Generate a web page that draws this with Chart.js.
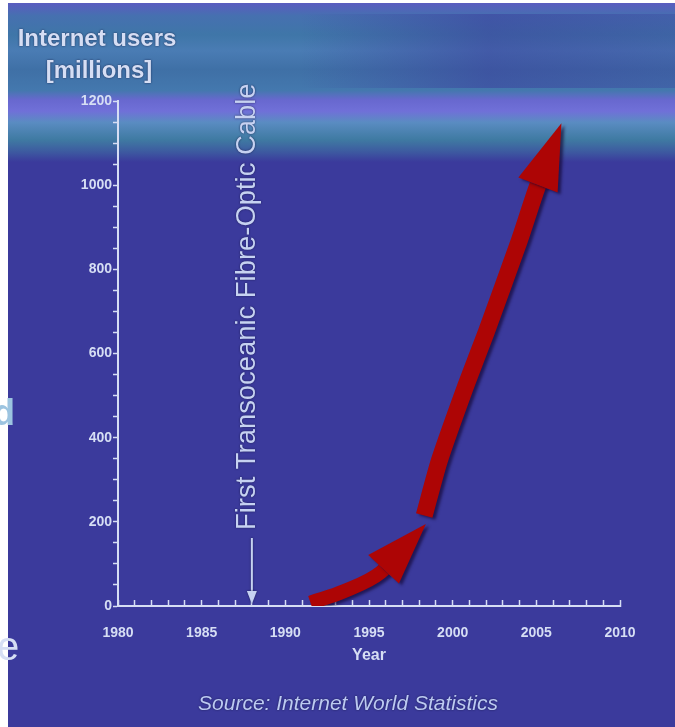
<!DOCTYPE html>
<html>
<head>
<meta charset="utf-8">
<script src="https://cdn.jsdelivr.net/npm/chart.js@4.4.1/dist/chart.umd.min.js"></script>
<style>
html, body { margin: 0; padding: 0; background: #fff; }
canvas { display: block; }
</style>
</head>
<body>
<canvas id="chart" width="675" height="727"></canvas>
<script>
"use strict"
// values (year, millions of users)
const lowerYears = [1991.5, 1993.5, 1995.7, 1998.4];
const lowerUsers = [8, 35, 80, 195];
const upperYears = [1998.3, 1999.2, 2000.8, 2002.0, 2004.0, 2005.0, 2006.5];
const upperUsers = [215, 345, 525, 650, 870, 990, 1147];
const xTickLabels = [1980, 1985, 1990, 1995, 2000, 2005, 2010];
const yTickLabels = [0, 200, 400, 600, 800, 1000, 1200];
const cableYear = 1988;
const cableText = "First Transoceanic Fibre-Optic Cable";

const textColor = "#d6def4";
const FONT = "'Liberation Sans', Arial, sans-serif";

function toPoints(xs, ys) {
    let pts = [];
    for (let i = 0; i < xs.length; i++) pts.push({x: xs[i], y: ys[i]});
    return pts;
}

const background = {
    id: "background",
    beforeDraw(chart) {
        const ctx = chart.ctx;
        ctx.save();
        ctx.fillStyle = "#ffffff";
        ctx.fillRect(0, 0, chart.width, chart.height);
        ctx.fillStyle = "#3b3a9c";
        ctx.fillRect(8, 3, chart.width - 8, chart.height - 3);
        let g = ctx.createLinearGradient(0, 3, 0, 162);
        g.addColorStop(0.00, "#5a5cc0");
        g.addColorStop(0.08, "#4670b0");
        g.addColorStop(0.20, "#3f76a8");
        g.addColorStop(0.30, "#4a7cb4");
        g.addColorStop(0.42, "#3f70a6");
        g.addColorStop(0.55, "#4478ae");
        g.addColorStop(0.61, "#6868cf");
        g.addColorStop(0.68, "#7070d8");
        g.addColorStop(0.75, "#5a8cc2");
        g.addColorStop(0.86, "#3f7aa2");
        g.addColorStop(0.94, "#3d58a0");
        g.addColorStop(1.00, "#3b3a9c");
        ctx.fillStyle = g;
        ctx.fillRect(8, 3, chart.width - 8, 159);
        // darker patches toward the right top
        let h = ctx.createLinearGradient(300, 0, 675, 0);
        h.addColorStop(0, "rgba(59,58,156,0)");
        h.addColorStop(0.5, "rgba(59,58,156,0.5)");
        h.addColorStop(1, "rgba(59,58,156,0.3)");
        ctx.fillStyle = h;
        ctx.fillRect(300, 14, 375, 74);
        // cut-off letters from the neighbouring slide
        ctx.fillStyle = "#9cc4e0";
        ctx.font = "bold 36px " + FONT;
        ctx.textBaseline = "alphabetic";
        ctx.fillText("d", -7, 425);
        ctx.fillStyle = textColor;
        ctx.font = "40px " + FONT;
        ctx.fillText("e", -3, 660);
        ctx.restore();
    }
};

function headGeom(meta, len, wid) {
    const pts = meta.data;
    const tip = pts[pts.length - 1], prev = pts[pts.length - 2];
    let dx = tip.x - prev.x, dy = tip.y - prev.y;
    const d = Math.hypot(dx, dy);
    dx /= d; dy /= d;
    return {tx: tip.x, ty: tip.y, ux: dx, uy: dy, nx: -dy, ny: dx, len: len, wid: wid};
}

const arrowHeads = {
    id: "arrowHeads",
    beforeDatasetDraw(chart, args) {
        const ds = chart.data.datasets[args.index];
        if (!ds.headLength) return;
        const g = headGeom(args.meta, ds.headLength, ds.headWidth);
        const ctx = chart.ctx;
        const bx = g.tx - g.ux * g.len, by = g.ty - g.uy * g.len;
        ctx.save();
        ctx.beginPath();
        ctx.rect(0, 0, chart.width, chart.height);
        ctx.moveTo(bx + g.nx * g.wid, by + g.ny * g.wid);
        ctx.lineTo(bx - g.nx * g.wid, by - g.ny * g.wid);
        ctx.lineTo(g.tx + g.ux * 30 - g.nx * g.wid, g.ty + g.uy * 30 - g.ny * g.wid);
        ctx.lineTo(g.tx + g.ux * 30 + g.nx * g.wid, g.ty + g.uy * 30 + g.ny * g.wid);
        ctx.closePath();
        ctx.clip("evenodd");
        ctx.shadowColor = "rgba(15,0,40,0.6)";
        ctx.shadowOffsetX = 3;
        ctx.shadowOffsetY = 2;
        ctx.shadowBlur = 3;
    },
    afterDatasetDraw(chart, args) {
        const ds = chart.data.datasets[args.index];
        if (!ds.headLength) return;
        const ctx = chart.ctx;
        ctx.restore();
        const g = headGeom(args.meta, ds.headLength, ds.headWidth);
        const bx = g.tx - g.ux * g.len, by = g.ty - g.uy * g.len;
        ctx.save();
        ctx.shadowColor = "rgba(15,0,40,0.6)";
        ctx.shadowOffsetX = 3;
        ctx.shadowOffsetY = 2;
        ctx.shadowBlur = 3;
        ctx.fillStyle = ds.borderColor;
        ctx.beginPath();
        ctx.moveTo(g.tx, g.ty);
        ctx.lineTo(bx + g.nx * g.wid / 2, by + g.ny * g.wid / 2);
        ctx.lineTo(bx - g.nx * g.wid / 2, by - g.ny * g.wid / 2);
        ctx.closePath();
        ctx.fill();
        ctx.restore();
    }
};

const labels = {
    id: "labels",
    afterDraw(chart) {
        const ctx = chart.ctx;
        const x = chart.scales.x, y = chart.scales.y;
        ctx.save();
        ctx.shadowColor = "rgba(20,20,60,0.8)";
        ctx.shadowBlur = 2;
        ctx.fillStyle = textColor;
        ctx.textAlign = "center";
        ctx.textBaseline = "alphabetic";
        ctx.font = "bold 24px " + FONT;
        ctx.fillText("Internet users", 97, 46);
        ctx.fillText("[millions]", 99, 78);

        ctx.font = "italic 21px " + FONT;
        ctx.fillStyle = "#bccaf2";
        ctx.fillText("Source: Internet World Statistics", 348, 710);

        // cable annotation
        const cx = x.getPixelForValue(cableYear);
        const y0 = y.getPixelForValue(0);
        ctx.fillStyle = "#c6d2f2";
        ctx.font = "20px " + FONT;
        const w20 = ctx.measureText(cableText).width;
        const size = 20 * 447 / w20;
        ctx.font = size.toFixed(1) + "px " + FONT;
        ctx.translate(cx - 4, 530);
        ctx.rotate(-Math.PI / 2);
        ctx.textAlign = "left";
        ctx.textBaseline = "middle";
        ctx.fillText(cableText, 0, 0);
        ctx.setTransform(1, 0, 0, 1, 0, 0);
        ctx.scale(chart.currentDevicePixelRatio, chart.currentDevicePixelRatio);
        ctx.strokeStyle = "#c6d2f2";
        ctx.fillStyle = "#c6d2f2";
        ctx.lineWidth = 2;
        ctx.beginPath();
        ctx.moveTo(cx, 538);
        ctx.lineTo(cx, y0 - 12);
        ctx.stroke();
        ctx.beginPath();
        ctx.moveTo(cx, y0 - 2);
        ctx.lineTo(cx - 5, y0 - 15);
        ctx.lineTo(cx + 5, y0 - 15);
        ctx.closePath();
        ctx.fill();
        ctx.restore();
    }
};

new Chart(document.getElementById("chart"), {
    type: "line",
    data: {
        datasets: [{
            data: toPoints(lowerYears, lowerUsers),
            borderColor: "#ad0505",
            borderWidth: 14,
            tension: 0.35,
            pointRadius: 0,
            headLength: 62,
            headWidth: 42
        }, {
            data: toPoints(upperYears, upperUsers),
            borderColor: "#ad0505",
            borderWidth: 17,
            tension: 0.2,
            pointRadius: 0,
            headLength: 66,
            headWidth: 42
        }]
    },
    options: {
        responsive: false,
        animation: false,
        layout: { padding: { left: 8, top: 101, right: 55, bottom: 61 } },
        plugins: { legend: { display: false }, tooltip: { enabled: false } },
        scales: {
            x: {
                type: "linear",
                min: 1980,
                max: 2010,
                afterFit(scale) { scale.height = 60; },
                border: { color: textColor, width: 2 },
                grid: { drawOnChartArea: false, color: textColor, tickLength: -6, tickWidth: 1.5 },
                ticks: {
                    stepSize: 1,
                    autoSkip: false,
                    maxRotation: 0,
                    padding: 25,
                    color: textColor,
                    font: { family: FONT, size: 14, weight: "bold" },
                    callback: v => xTickLabels.includes(v) ? String(v) : ""
                },
                title: {
                    display: true,
                    text: "Year",
                    color: textColor,
                    font: { family: FONT, size: 16, weight: "bold" },
                    padding: { top: 0, bottom: 1 }
                }
            },
            y: {
                min: 0,
                max: 1200,
                afterFit(scale) { scale.width = 110; },
                border: { color: textColor, width: 2 },
                grid: { drawOnChartArea: false, color: textColor, tickLength: 5, tickWidth: 1.5 },
                ticks: {
                    stepSize: 50,
                    autoSkip: false,
                    padding: 1,
                    color: textColor,
                    font: { family: FONT, size: 14, weight: "bold" },
                    callback: v => yTickLabels.includes(v) ? String(v) : ""
                }
            }
        }
    },
    plugins: [background, arrowHeads, labels]
});
</script>
</body>
</html>
